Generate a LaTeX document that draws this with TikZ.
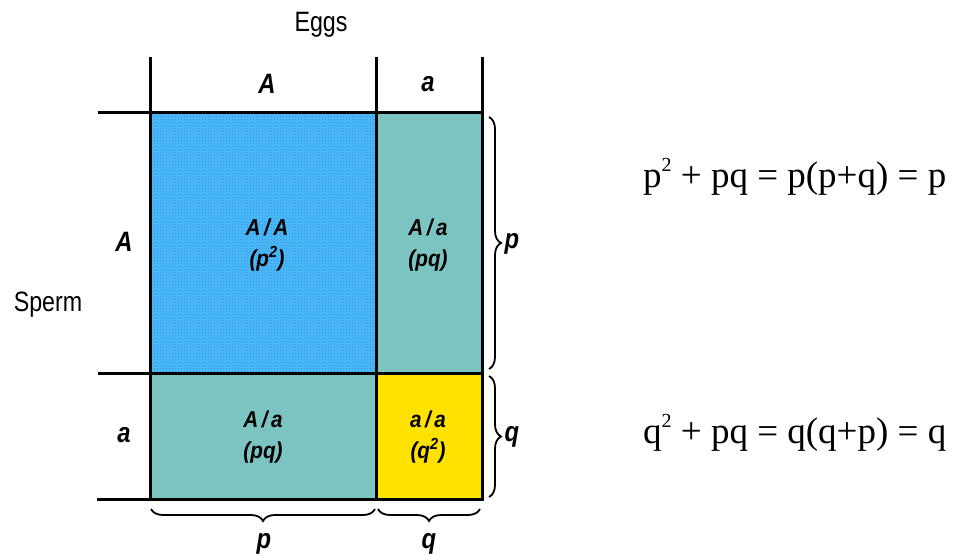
\documentclass[tikz,border=0pt]{standalone}
\usepackage{fontspec}
\setmainfont{Liberation Serif}
\newfontfamily\sansf{Liberation Sans}
\usetikzlibrary{decorations.pathreplacing,patterns}
\definecolor{cellblue}{RGB}{72,190,248}
\definecolor{speck}{RGB}{70,120,225}
\definecolor{cellteal}{RGB}{124,196,194}
\definecolor{cellyellow}{RGB}{255,226,0}
\newcommand{\supr}[1]{\raisebox{16pt}{\fontsize{20}{20}\selectfont #1}}
\tikzset{
  gridline/.style={line width=3pt},
  hdr/.style={font=\sansf\bfseries\itshape\fontsize{28}{30}\selectfont, inner sep=0pt, xscale=0.85},
  side/.style={font=\sansf\fontsize{28}{30}\selectfont, inner sep=0pt, xscale=0.83},
  celltxt/.style={font=\sansf\bfseries\itshape\fontsize{23}{31}\selectfont, align=center, inner sep=0pt, xscale=0.9},
  bracel/.style={decorate, decoration={brace, amplitude=12pt}, line width=1.8pt},
  eqn/.style={font=\fontsize{37}{40}\selectfont, inner sep=0pt, anchor=base west}
}
\begin{document}
\begin{tikzpicture}[x=1pt,y=-1pt]
\useasboundingbox (0,0) rectangle (956,556);
% cells
\fill[cellblue] (150,113) rectangle (376,373);
\fill[pattern=crosshatch dots, pattern color=speck] (150,113) rectangle (376,373);
\fill[cellteal] (376,113) rectangle (482,373);
\fill[cellteal] (150,373) rectangle (376,499);
\fill[cellyellow] (376,373) rectangle (482,499);
% grid coordinates
\coordinate (v1t) at (150,57); \coordinate (v1b) at (150,499);
\coordinate (v2t) at (376,57); \coordinate (v2b) at (376,499);
\coordinate (v3t) at (482,57); \coordinate (v3b) at (482,499);
\coordinate (h1l) at (98,113); \coordinate (h1r) at (482,113);
\coordinate (h2l) at (98,373); \coordinate (h2r) at (482,373);
\coordinate (h3l) at (98,499); \coordinate (h3r) at (482,499);
\draw[gridline] (v1t) -- (v1b);
\draw[gridline] (v2t) -- (v2b);
\draw[gridline] (v3t) -- (v3b);
\draw[gridline] (h1l) -- (h1r);
\draw[gridline] (h2l) -- (h2r);
\draw[gridline, line cap=rect] (h3l) -- (h3r);
% titles
\node[side] (eggs) at (321,25) {Eggs};
\node[side] (sperm) at (48,305) {Sperm};
% headers
\node[hdr] (cA) at (267,84) {A};
\node[hdr] (ca) at (428,84) {a};
\node[hdr] (rA) at (124,242) {A};
\node[hdr] (ra) at (124,435) {a};
% cells text
\node[celltxt] (AA) at (267,245) {A\,/\,A\\(p\textsuperscript{2})};
\node[celltxt] (Aa1) at (428,245) {A\,/\,a\\(pq)};
\node[celltxt] (Aa2) at (263,437) {A\,/\,a\\(pq)};
\node[celltxt] (aa) at (428,437) {a\,/\,a\\(q\textsuperscript{2})};
% braces
\coordinate (bp1) at (489,117); \coordinate (bp2) at (489,369);
\coordinate (bq1) at (489,376); \coordinate (bq2) at (489,497);
\draw[bracel] (bp1) -- (bp2);
\draw[bracel] (bq1) -- (bq2);
\node[hdr] (lp) at (512,244) {p};
\node[hdr] (lq) at (512,437) {q};
\coordinate (bbp1) at (375,509); \coordinate (bbp2) at (151,509);
\coordinate (bbq1) at (480,509); \coordinate (bbq2) at (378,509);
\draw[bracel] (bbp1) -- (bbp2);
\draw[bracel] (bbq1) -- (bbq2);
\node[hdr] (lbp) at (264,544) {p};
\node[hdr] (lbq) at (429,544) {q};
% equations
\node[eqn] (eq1) at (643,188) {p\supr{2} + pq = p(p+q) = p};
\node[eqn] (eq2) at (643,443) {q\supr{2} + pq = q(q+p) = q};
\end{tikzpicture}
\end{document}
